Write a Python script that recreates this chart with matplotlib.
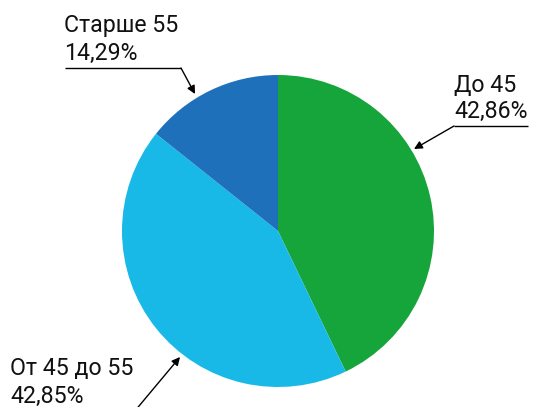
import matplotlib.pyplot as plt

labels = ["До 45", "От 45 до 55", "Старше 55"]
values = [42.86, 42.85, 14.29]
pct_text = ["42,86%", "42,85%", "14,29%"]
colors = ["#16a53a", "#18b9e7", "#1f70bb"]

W, H = 533, 407
fig = plt.figure(figsize=(W / 100, H / 100), dpi=100)
ax = fig.add_axes([0, 0, 1, 1])

# pie: centre and radius in pixels (y flipped)
cx, cy, r = 278, H - 231, 156
ax.pie(values, colors=colors, startangle=90, counterclock=False,
       center=(cx, cy), radius=r, frame=True,
       wedgeprops={"linewidth": 0})
ax.set_xlim(0, W)
ax.set_ylim(0, H)
ax.axis("off")

font = dict(family="Roboto", fontsize=16.7, color="#111111")


def label(x, y1, y2, name, pct):
    ax.text(x, H - y1, name, va="baseline", ha="left", **font)
    ax.text(x, H - y2, pct, va="baseline", ha="left", **font)


def pointer(pts, tip):
    xs = [p[0] for p in pts]
    ys = [H - p[1] for p in pts]
    ax.plot(xs, ys, color="black", lw=1, solid_capstyle="butt", clip_on=False)
    ax.annotate("", xy=(tip[0], H - tip[1]), xytext=(pts[-1][0], H - pts[-1][1]),
                arrowprops=dict(arrowstyle="-|>", color="black", lw=1,
                                mutation_scale=12, shrinkA=0, shrinkB=0))


label(454, 92, 118, labels[0], pct_text[0])
pointer([(528, 126), (454, 126)], (414, 149))

label(64, 32, 60, labels[2], pct_text[2])
pointer([(65, 68), (181, 68)], (195, 94))

label(10, 375, 403, labels[1], pct_text[1])
pointer([(134, 412)], (180, 357))

fig.savefig("out.png", dpi=100)
